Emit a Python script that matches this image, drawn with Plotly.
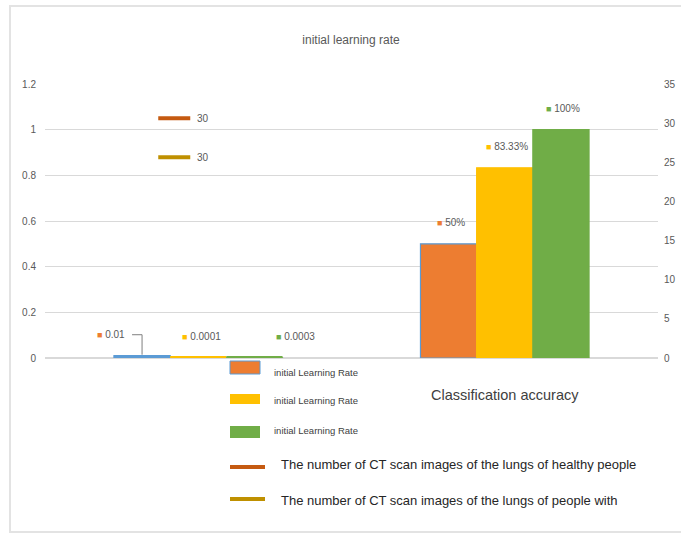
import plotly.graph_objects as go

# ---------------- data ----------------
categories = [" ", "Classification accuracy"]
bar_names = ["initial Learning Rate", "initial Learning Rate", "initial Learning Rate"]
bar_values = [
    [0.01, 0.5],
    [0.0001, 0.8333],
    [0.0003, 1.0],
]
bar_labels = [
    ["0.01", "50%"],
    ["0.0001", "83.33%"],
    ["0.0003", "100%"],
]
line_names = [
    "The number of CT scan images of the lungs of healthy people",
    "The number of CT scan images of the lungs of people with",
]
line_values = [[30], [30]]
line_labels = ["30", "30"]
title_text = "initial learning rate"

# ---------------- style ----------------
W, H = 681, 533
ML, MR, MT, MB = 45, 23, 84, 175
BARGAP = 0.45
bar_fill = ["#ED7D31", "#FFC000", "#70AD47"]
bar_edge = ["#5B9BD5", "#FFC000", "#70AD47"]
line_colors = ["#C55A11", "#BF9000"]
FONT = "Liberation Sans, Arial, sans-serif"
TXT = "#595959"

plot_w = W - ML - MR
plot_h = H - MT - MB
cat_px = plot_w / len(categories)
bar_px = cat_px * (1 - BARGAP) / 3


def px(x):
    return (x - ML) / plot_w


def py(y):
    return (H - MB - y) / plot_h


fig = go.Figure()

for i in range(3):
    fig.add_trace(go.Bar(
        x=categories, y=bar_values[i], name=bar_names[i],
        marker=dict(color=bar_fill[i], line=dict(color=bar_edge[i], width=1.2)),
        showlegend=False, yaxis="y",
    ))

for j in range(2):
    fig.add_trace(go.Scatter(
        x=categories[:1], y=line_values[j], name=line_names[j], mode="lines",
        line=dict(color=line_colors[j], width=4), showlegend=False, yaxis="y2",
    ))

annotations = []
shapes = []

# outline strokes of the near-zero bars (Excel still draws their edge)
for i in range(3):
    off = (i - 1) * bar_px
    shapes.append(dict(type="line", xref="x", yref="y", xsizemode="pixel", ysizemode="pixel",
                       xanchor=categories[0], yanchor=0,
                       x0=off - bar_px / 2, x1=off + bar_px / 2, y0=1, y1=1,
                       line=dict(color=bar_edge[i] if i == 0 else bar_fill[i], width=2),
                       layer="above"))

# bar data labels
cat1_dx = [-31, 3, 41]
for i in range(3):
    off = (i - 1) * bar_px
    for c in range(2):
        dx = cat1_dx[i] if c == 0 else 2
        annotations.append(dict(
            x=categories[c], y=bar_values[i][c], xref="x", yref="y",
            text=f"<span style='color:{bar_fill[i]};font-size:9px'>■</span> {bar_labels[i][c]}",
            showarrow=False, xshift=off + dx, yshift=21,
            font=dict(family=FONT, size=10, color=TXT),
        ))

# leader line for first small label
off0 = -bar_px
shapes.append(dict(type="line", xref="x", yref="y", xsizemode="pixel", ysizemode="pixel",
                   xanchor=categories[0], yanchor=bar_values[0][0],
                   x0=off0 - 10, x1=off0, y0=21, y1=21,
                   line=dict(color="#7f7f7f", width=1)))
shapes.append(dict(type="line", xref="x", yref="y", xsizemode="pixel", ysizemode="pixel",
                   xanchor=categories[0], yanchor=bar_values[0][0],
                   x0=off0, x1=off0, y0=21, y1=1,
                   line=dict(color="#7f7f7f", width=1)))

# line-series data labels (legend key + value)
label_dy = [5, -34]
for j in range(2):
    shapes.append(dict(type="line", xref="x", yref="y2", xsizemode="pixel", ysizemode="pixel",
                       xanchor=categories[0], yanchor=line_values[j][0],
                       x0=-40, x1=-8, y0=label_dy[j], y1=label_dy[j],
                       line=dict(color=line_colors[j], width=4)))
    annotations.append(dict(
        x=categories[0], y=line_values[j][0], xref="x", yref="y2",
        text=line_labels[j], showarrow=False, xanchor="left",
        xshift=-3, yshift=label_dy[j],
        font=dict(family=FONT, size=10, color=TXT),
    ))

# manual legend
leg_rows_bar = [(361, 374, 372), (394, 404, 400), (426, 438, 430)]
for i, (y0, y1, ty) in enumerate(leg_rows_bar):
    shapes.append(dict(type="rect", xref="paper", yref="paper",
                       x0=px(230), x1=px(260), y0=py(y1), y1=py(y0),
                       fillcolor=bar_fill[i],
                       line=dict(color=bar_edge[i], width=1 if i == 0 else 0)))
    annotations.append(dict(x=px(272), y=py(ty), xref="paper", yref="paper",
                            text=bar_names[i], showarrow=False,
                            xanchor="left", yanchor="middle",
                            font=dict(family=FONT, size=9.5, color="#404040")))
leg_rows_line = [(467, 464), (499, 500)]
for j, (ly, ty) in enumerate(leg_rows_line):
    shapes.append(dict(type="line", xref="paper", yref="paper",
                       x0=px(230), x1=px(265), y0=py(ly), y1=py(ly),
                       line=dict(color=line_colors[j], width=4)))
    annotations.append(dict(x=px(279), y=py(ty), xref="paper", yref="paper",
                            text=line_names[j], showarrow=False,
                            xanchor="left", yanchor="middle",
                            font=dict(family=FONT, size=13, color="#262626")))

# chart border
shapes.append(dict(type="rect", xref="paper", yref="paper",
                   x0=px(10), x1=px(700), y0=py(532), y1=py(6),
                   line=dict(color="#e3e3e3", width=2), layer="below"))

fig.update_layout(
    width=W, height=H,
    margin=dict(l=ML, r=MR, t=MT, b=MB, autoexpand=False),
    paper_bgcolor="white", plot_bgcolor="white",
    barmode="group", bargap=BARGAP, bargroupgap=0,
    title=dict(text=title_text, x=351 / W, y=1 - 40 / H, xanchor="center", yanchor="middle",
               font=dict(family=FONT, size=12, color=TXT)),
    xaxis=dict(type="category", categoryarray=categories, showgrid=False, showline=False,
               ticks="", ticklabelstandoff=26,
               tickfont=dict(family=FONT, size=14.5, color="#404040")),
    yaxis=dict(range=[0, 1.2], dtick=0.2, showgrid=True, gridcolor="#d9d9d9", gridwidth=1,
               zeroline=True, zerolinecolor="#d9d9d9", showline=False, ticks="",
               ticklabelstandoff=8,
               tickfont=dict(family=FONT, size=10, color=TXT), tickformat="~g"),
    yaxis2=dict(range=[0, 35], dtick=5, overlaying="y", side="right", showgrid=False,
                zeroline=False, showline=False, ticks="", ticklabelstandoff=5,
                tickfont=dict(family=FONT, size=10, color=TXT)),
    annotations=annotations, shapes=shapes,
)

fig.write_html("out.html")
